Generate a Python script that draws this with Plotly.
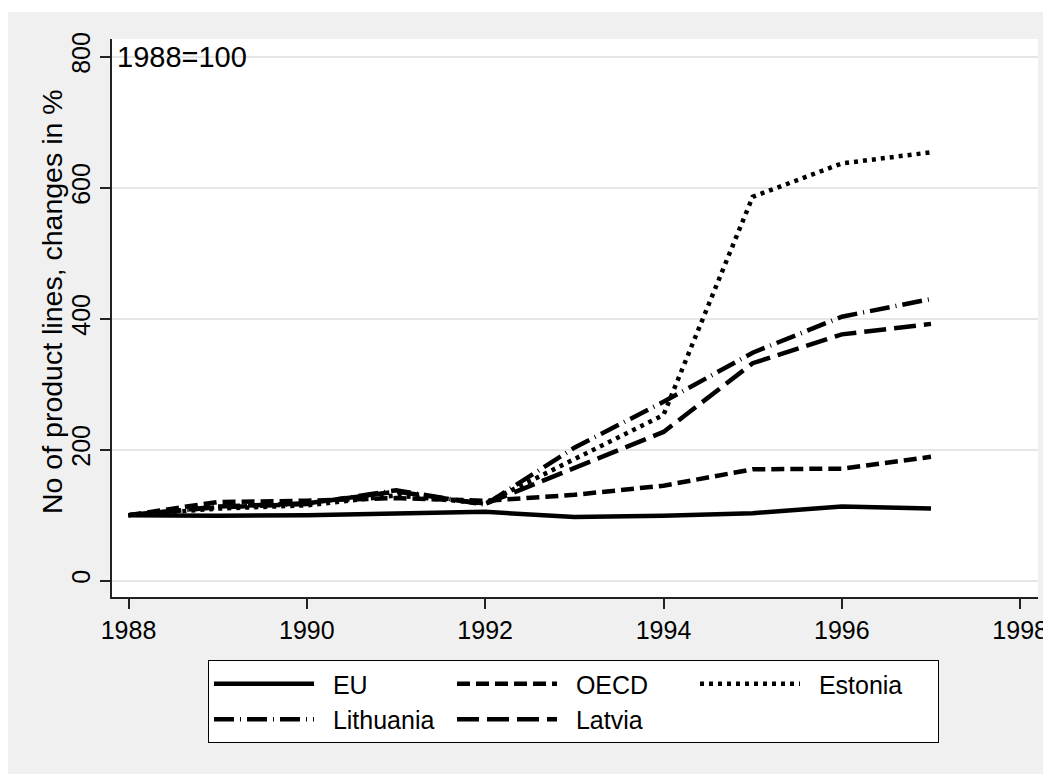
import plotly.graph_objects as go

years = [1988, 1989, 1990, 1991, 1992, 1993, 1994, 1995, 1996, 1997]
eu = [100, 99, 100, 102, 105, 97, 99, 103, 113, 110]
oecd = [100, 120, 122, 126, 122, 131, 145, 170, 171, 189]
estonia = [100, 110, 115, 130, 118, 185, 253, 586, 637, 654]
lithuania = [100, 112, 117, 138, 116, 203, 273, 348, 403, 430]
latvia = [100, 113, 118, 136, 117, 172, 227, 332, 376, 392]

x_ticks = [1988, 1990, 1992, 1994, 1996, 1998]
y_ticks = [0, 200, 400, 600, 800]

FONT = "Liberation Sans, Arial, Helvetica, sans-serif"
LW = 4.5
PAD = "\u00a0\u00a0"

series = [
    ("EU", eu, "solid"),
    ("OECD", oecd, "13px,6px"),
    ("Estonia", estonia, "4px,5px"),
    ("Lithuania", lithuania, "20px,6px,1px,6px"),
    ("Latvia", latvia, "22px,8px"),
]

fig = go.Figure()
for name, vals, dash in series:
    fig.add_trace(go.Scatter(
        x=years, y=vals, name=PAD + name, mode="lines",
        line=dict(color="black", width=LW, dash=dash),
    ))

# figure is placed at (8, 8) on the page by the body margin
W, H = 1051, 774
ml, mr, mt, mb = 104, 21, 31, 185
pw, ph = W - ml - mr, H - mt - mb

def px_to_paper_x(px):
    return (px - ml) / pw

def px_to_paper_y(py):
    return (H - mb - py) / ph

fig.update_layout(
    width=W, height=H,
    margin=dict(l=ml, r=mr, t=mt, b=mb),
    paper_bgcolor="#f0f0f0",
    plot_bgcolor="white",
    font=dict(family=FONT, size=25, color="black"),
    xaxis=dict(
        range=[1987.815, 1998.2],
        tickvals=x_ticks,
        ticks="outside", ticklen=10, tickwidth=1.5, tickcolor="#222",
        showline=True, linecolor="#222", linewidth=1.5,
        showgrid=False, zeroline=False,
        tickfont=dict(size=25),
    ),
    yaxis=dict(
        range=[-25, 827],
        tickvals=y_ticks,
        ticks="outside", ticklen=10, tickwidth=1.5, tickcolor="#222",
        showline=True, linecolor="#222", linewidth=1.5,
        showgrid=True, gridcolor="#e6e6e6", gridwidth=2,
        zeroline=False,
        tickangle=-90,
        tickfont=dict(size=25),
    ),
    legend=dict(
        orientation="h",
        x=px_to_paper_x(565.5), xanchor="center",
        y=px_to_paper_y(652), yanchor="top",
        bgcolor="white", bordercolor="black", borderwidth=1,
        font=dict(size=25),
        itemwidth=100,
        entrywidth=128,
        traceorder="normal",
    ),
    showlegend=True,
    annotations=[
        dict(
            text="1988=100", xref="paper", yref="paper",
            x=0, y=1, xanchor="left", yanchor="top",
            xshift=3, showarrow=False, font=dict(size=29),
        ),
        dict(
            text="No of product lines, changes in %", xref="paper", yref="paper",
            x=px_to_paper_x(44), y=px_to_paper_y(294),
            xanchor="center", yanchor="middle", textangle=-90,
            showarrow=False, font=dict(size=28.5),
        ),
    ],
    shapes=[
        dict(type="rect", xref="paper", yref="paper", layer="below",
             x0=px_to_paper_x(-5), x1=px_to_paper_x(W + 5),
             y0=px_to_paper_y(4), y1=px_to_paper_y(-5),
             fillcolor="white", line=dict(width=0)),
    ],
)

fig.write_html("out.html")
